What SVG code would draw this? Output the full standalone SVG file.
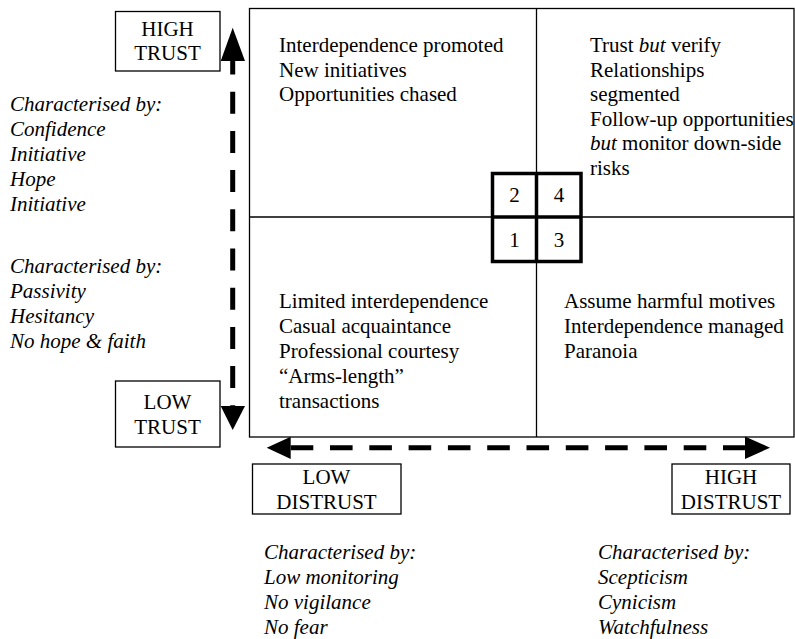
<svg xmlns="http://www.w3.org/2000/svg" width="795" height="639" viewBox="0 0 795 639">
<style>
text{font-family:"Liberation Serif","Times New Roman",serif;font-size:21px;fill:#000}
.i{font-style:italic}
.c{text-anchor:middle}
.thin{fill:none;stroke:#000;stroke-width:1.3}
.thick{fill:none;stroke:#000;stroke-width:3.5}
.dash{fill:none;stroke:#000;stroke-width:5}
</style>
<rect width="795" height="639" fill="#fff"/>
<g id="matrix">
<rect class="thin" x="249.5" y="8.5" width="544.5" height="428.5"/>
<line class="thin" x1="249.5" y1="217" x2="794" y2="217"/>
<line class="thin" x1="536.5" y1="8.5" x2="536.5" y2="437"/>
</g>
<g id="q2-text">
<text x="279" y="52">Interdependence promoted</text>
<text x="279" y="76.5">New initiatives</text>
<text x="279" y="101">Opportunities chased</text>
</g>
<g id="q4-text">
<text x="590" y="52">Trust <tspan class="i">but</tspan> verify</text>
<text x="590" y="76.5">Relationships</text>
<text x="590" y="101">segmented</text>
<text x="590" y="125.5">Follow-up opportunities</text>
<text x="590" y="150"><tspan class="i">but</tspan> monitor down-side</text>
<text x="590" y="174.5">risks</text>
</g>
<g id="q1-text">
<text x="279" y="308">Limited interdependence</text>
<text x="279" y="333">Casual acquaintance</text>
<text x="279" y="358">Professional courtesy</text>
<text x="279" y="383">“Arms-length”</text>
<text x="279" y="408">transactions</text>
</g>
<g id="q3-text">
<text x="564" y="307.5">Assume harmful motives</text>
<text x="564" y="332.5">Interdependence managed</text>
<text x="564" y="357.5">Paranoia</text>
</g>
<g id="key">
<rect fill="#fff" stroke="#000" stroke-width="3.5" x="492.5" y="173.5" width="88.5" height="88"/>
<line class="thick" x1="536.5" y1="173.5" x2="536.5" y2="261.5"/>
<line class="thick" x1="492.5" y1="217" x2="581" y2="217"/>
<text class="c" x="514.5" y="202">2</text>
<text class="c" x="559" y="202">4</text>
<text class="c" x="514.5" y="246.5">1</text>
<text class="c" x="559" y="246.5">3</text>
</g>
<g id="high-trust">
<rect class="thin" x="115.5" y="11.5" width="104.5" height="59.5"/>
<text class="c" x="167.5" y="35.5">HIGH</text>
<text class="c" x="167.5" y="60">TRUST</text>
</g>
<g id="low-trust">
<rect class="thin" x="115.5" y="381" width="104.5" height="66"/>
<text class="c" x="167.5" y="409">LOW</text>
<text class="c" x="167.5" y="433.5">TRUST</text>
</g>
<g id="low-distrust">
<rect class="thin" x="252.5" y="464" width="148.5" height="50"/>
<text class="c" x="326.5" y="483.5">LOW</text>
<text class="c" x="326.5" y="509">DISTRUST</text>
</g>
<g id="high-distrust">
<rect class="thin" x="672" y="464" width="118" height="50"/>
<text class="c" x="731" y="483.5">HIGH</text>
<text class="c" x="731" y="509">DISTRUST</text>
</g>
<g id="connectors">
<line class="dash" x1="232.7" y1="52.5" x2="232.7" y2="406" stroke-dasharray="22 17.2"/>
<polygon points="232.7,27.7 220.7,61 245,61"/>
<polygon points="232.7,430 220.7,406 245,406"/>
<line class="dash" x1="290.7" y1="447.7" x2="746" y2="447.7" stroke-dasharray="22.6 16.7"/>
<polygon points="266.7,447.7 290.7,436.7 290.7,459"/>
<polygon points="770,447.7 745,436.5 745,459"/>
</g>
<g id="trust-notes">
<text class="i" x="10" y="111">Characterised by:</text>
<text class="i" x="10" y="136">Confidence</text>
<text class="i" x="10" y="161">Initiative</text>
<text class="i" x="10" y="186">Hope</text>
<text class="i" x="10" y="211">Initiative</text>
<text class="i" x="10" y="273">Characterised by:</text>
<text class="i" x="10" y="298">Passivity</text>
<text class="i" x="10" y="323">Hesitancy</text>
<text class="i" x="10" y="348">No hope &amp; faith</text>
</g>
<g id="distrust-notes">
<text class="i" x="264" y="558.5">Characterised by:</text>
<text class="i" x="264" y="583.5">Low monitoring</text>
<text class="i" x="264" y="608.5">No vigilance</text>
<text class="i" x="264" y="633.5">No fear</text>
<text class="i" x="598" y="558.5">Characterised by:</text>
<text class="i" x="598" y="583.5">Scepticism</text>
<text class="i" x="598" y="608.5">Cynicism</text>
<text class="i" x="598" y="633.5">Watchfulness</text>
</g>
</svg>
